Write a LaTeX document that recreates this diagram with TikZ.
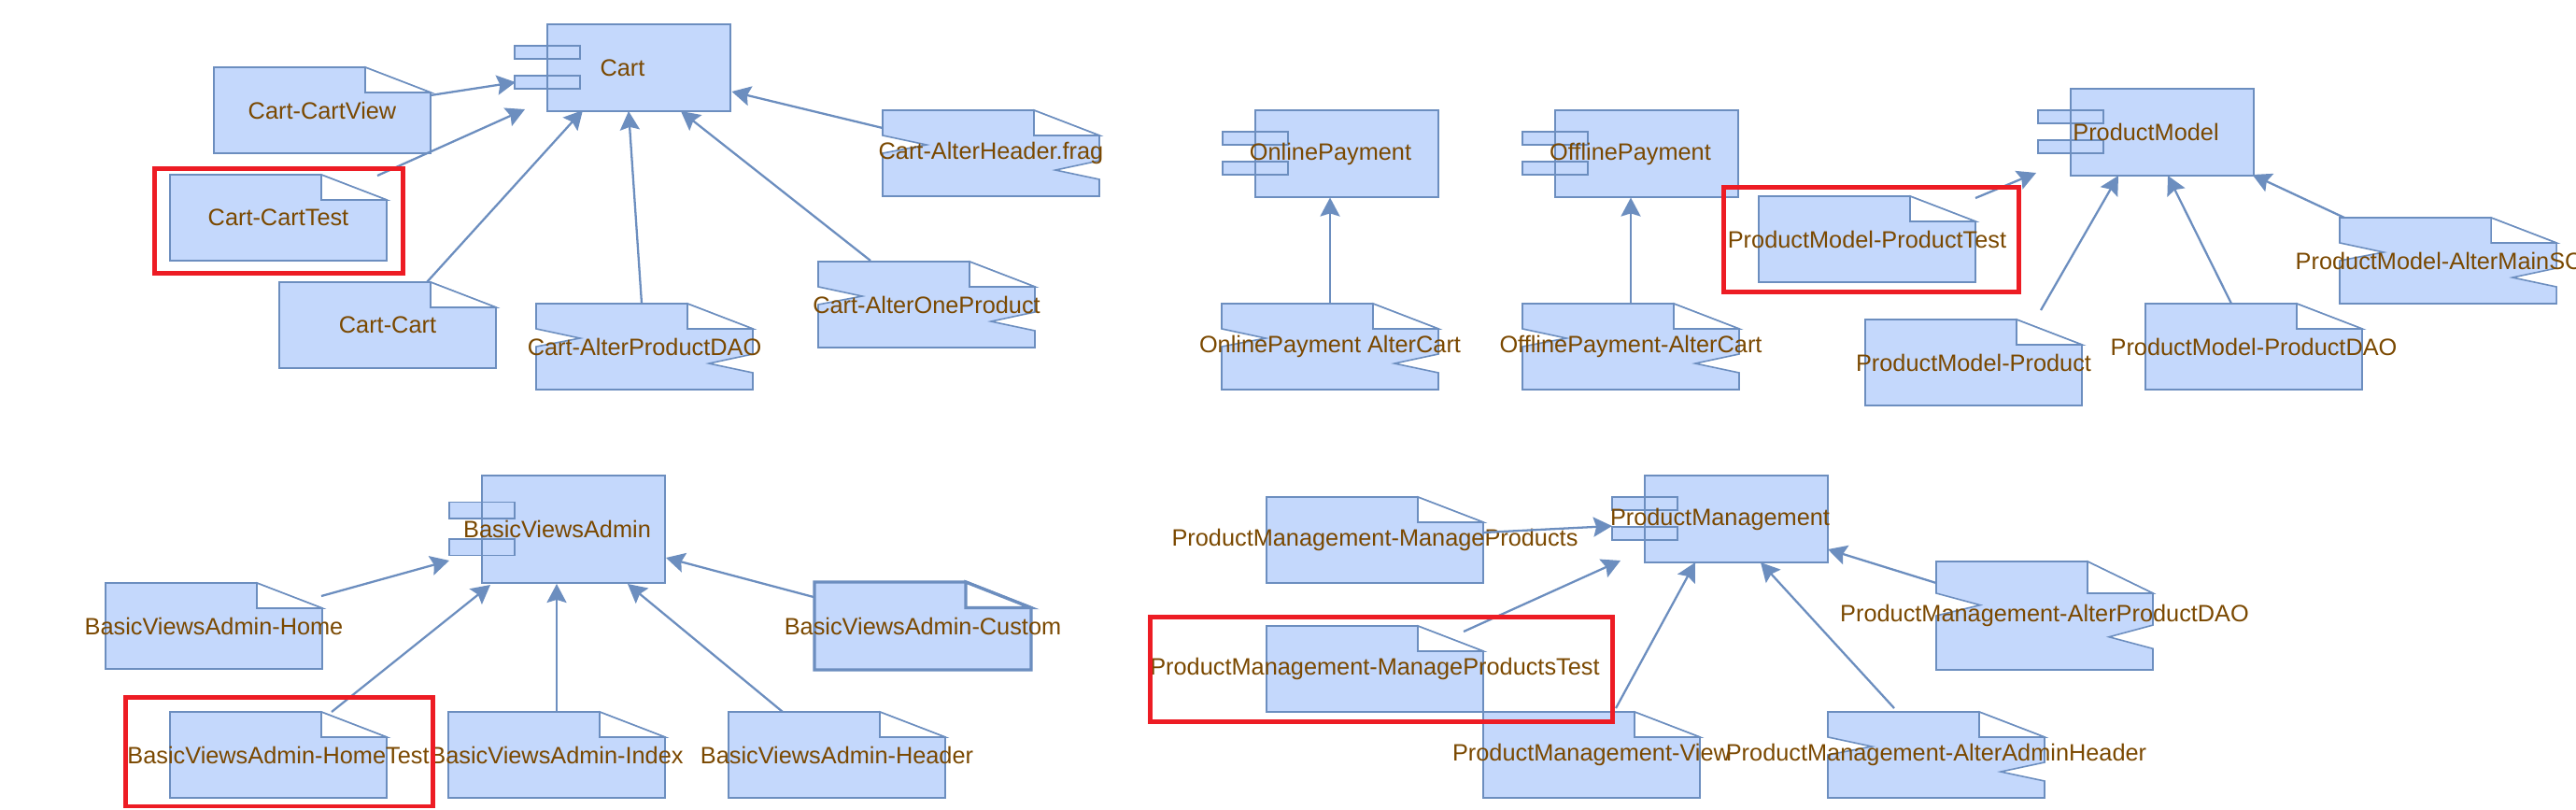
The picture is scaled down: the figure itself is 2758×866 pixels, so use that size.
\documentclass[tikz,border=0pt]{standalone}
\usepackage{fontspec}
\setmainfont{Liberation Sans}
\usetikzlibrary{calc,arrows.meta,backgrounds}
\definecolor{boxfill}{RGB}{196,216,252}
\definecolor{boxline}{RGB}{108,142,191}
\definecolor{labeltext}{RGB}{122,72,0}
\definecolor{markred}{RGB}{237,28,36}
\tikzset{
    lbl/.style={inner sep=0pt, text=labeltext, font=\fontsize{7.2}{8}\selectfont},
    shapeline/.style={draw=boxline, fill=boxfill, line width=0.45pt},
    foldline/.style={draw=boxline, fill=white, line width=0.45pt},
    dep/.style={draw=boxline, line width=0.65pt, -{Stealth[length=5.7pt,width=6pt,inset=0.9pt]}},
    markbox/.style={draw=markred, line width=1.4pt}
}

\begin{document}
\begin{tikzpicture}[x=0.01cm, y=-0.01cm]
            \useasboundingbox (0,0) rectangle (2758,866);

            \node[lbl] (cart) at (666.5,72.5) {Cart};
            \node[lbl] (onpay) at (1424.5,164.5) {OnlinePayment};
            \node[lbl] (offpay) at (1745.5,164.5) {OfflinePayment};
            \node[lbl] (pmodel) at (2297.5,141.5) {ProductModel};
            \node[lbl] (bva) at (596.5,566.5) {BasicViewsAdmin};
            \node[lbl] (pmgmt) at (1841.5,555.5) {ProductManagement};

            \node[lbl] (cview) at (345,118) {Cart-CartView};
            \node[lbl] (ctest) at (298,233) {Cart-CartTest};
            \node[lbl] (ccart) at (415,348) {Cart-Cart};
            \node[lbl] (cdao) at (690,371) {Cart-AlterProductDAO};
            \node[lbl] (cone) at (992,326) {Cart-AlterOneProduct};
            \node[lbl] (cheader) at (1061,164) {Cart-AlterHeader.frag};

            \node[lbl] (onalter) at (1424,371) {OnlinePayment AlterCart};
            \node[lbl] (offalter) at (1746,371) {OfflinePayment-AlterCart};
            \node[lbl] (pmtest) at (1999,256) {ProductModel-ProductTest};
            \node[lbl] (pmprod) at (2113,388) {ProductModel-Product};
            \node[lbl] (pmdao) at (2413,371) {ProductModel-ProductDAO};
            \node[lbl] (pmsc) at (2621,279) {};
            \node[lbl, anchor=west] (pmsctext) at (2457,279) {ProductModel-AlterMainSC};

            \node[lbl] (bhome) at (229,670) {BasicViewsAdmin-Home};
            \node[lbl] (bhtest) at (298,808) {BasicViewsAdmin-HomeTest};
            \node[lbl] (bindex) at (596,808) {BasicViewsAdmin-Index};
            \node[lbl] (bheader) at (896,808) {BasicViewsAdmin-Header};
            \node[lbl] (bcustom) at (988,670) {BasicViewsAdmin-Custom};

            \node[lbl] (mprod) at (1472,578) {ProductManagement-ManageProducts};
            \node[lbl] (mtest) at (1472,716) {ProductManagement-ManageProductsTest};
            \node[lbl] (mview) at (1704,808) {ProductManagement-View};
            \node[lbl] (mhead) at (2073,808) {ProductManagement-AlterAdminHeader};
            \node[lbl] (mdao) at (2189,659) {ProductManagement-AlterProductDAO};

            \begin{scope}[on background layer]
                \foreach \n/\h in {cart/93, onpay/93, offpay/93, pmodel/93, pmgmt/93, bva/115} {
                    \draw[shapeline] ($(\n)+(-80.5,-\h/2)$) rectangle ($(\n)+(115.5,\h/2)$);
                    \draw[shapeline] ($(\n)+(-115.5,-0.253*\h)$) rectangle ($(\n)+(-45.5,-0.102*\h)$);
                    \draw[shapeline] ($(\n)+(-115.5,0.091*\h)$) rectangle ($(\n)+(-45.5,0.242*\h)$);
                    \draw[draw=boxline, line width=0.45pt] ($(\n)+(-80.5,-\h/2)$) rectangle ($(\n)+(115.5,\h/2)$);
                }
                \foreach \n/\h/\w in {cview/92/0.45pt, ctest/92/0.45pt, ccart/92/0.45pt, pmtest/92/0.45pt, pmprod/92/0.45pt, pmdao/92/0.45pt,
                        bhome/92/0.45pt, bhtest/92/0.45pt, bindex/92/0.45pt, bheader/92/0.45pt, bcustom/94/0.95pt,
                        mprod/92/0.45pt, mtest/92/0.45pt, mview/92/0.45pt} {
                    \draw[shapeline, line width=\w] ($(\n)+(-116,-\h/2)$) -- ($(\n)+(46,-\h/2)$) -- ($(\n)+(116,-0.207*\h)$)
                        -- ($(\n)+(116,\h/2)$) -- ($(\n)+(-116,\h/2)$) -- cycle;
                    \draw[foldline, line width=\w] ($(\n)+(46,-\h/2)$) -- ($(\n)+(46,-0.207*\h)$) -- ($(\n)+(116,-0.207*\h)$) -- cycle;
                }
                \foreach \n/\h in {cdao/92, cone/92, cheader/92, onalter/92, offalter/92, pmsc/92, mhead/92, mdao/116} {
                    \draw[shapeline] ($(\n)+(-116,-\h/2)$) -- ($(\n)+(46,-\h/2)$) -- ($(\n)+(116,-0.207*\h)$)
                        -- ($(\n)+(116,0.087*\h)$) -- ($(\n)+(69,0.196*\h)$) -- ($(\n)+(116,0.304*\h)$)
                        -- ($(\n)+(116,\h/2)$) -- ($(\n)+(-116,\h/2)$) -- ($(\n)+(-116,0)$)
                        -- ($(\n)+(-69,-0.098*\h)$) -- ($(\n)+(-116,-0.207*\h)$) -- cycle;
                    \draw[foldline] ($(\n)+(46,-\h/2)$) -- ($(\n)+(46,-0.207*\h)$) -- ($(\n)+(116,-0.207*\h)$) -- cycle;
                }
            \end{scope}

            \draw[dep] ($(cview)+(116,-16)$) -- ($(cart)+(-114.5,15.5)$);
            \draw[dep] ($(ctest)+(106,-45)$) -- ($(cart)+(-104.5,44.5)$);
            \draw[dep] ($(ccart)+(42,-46)$) -- ($(cart)+(-42.5,45.5)$);
            \draw[dep] ($(cdao)+(-3,-46)$) -- ($(cart)+(6.5,46.5)$);
            \draw[dep] ($(cone)+(-60,-47)$) -- ($(cart)+(62.5,46.5)$);
            \draw[dep] ($(cheader)+(-116,-27)$) -- ($(cart)+(117,25.5)$);

            \draw[dep] ($(onalter)+(0,-46)$) -- ($(onpay)+(-0.5,47)$);
            \draw[dep] ($(offalter)+(0,-46)$) -- ($(offpay)+(0.5,47)$);
            \draw[dep] ($(pmtest)+(116,-44)$) -- ($(pmodel)+(-117.5,43.5)$);
            \draw[dep] ($(pmprod)+(72,-56)$) -- ($(pmodel)+(-29.5,46.5)$);
            \draw[dep] ($(pmdao)+(-24,-46)$) -- ($(pmodel)+(23.5,46.5)$);
            \draw[dep] ($(pmsc)+(-111,-46)$) -- ($(pmodel)+(114,45.5)$);

            \draw[dep] ($(bhome)+(115,-32)$) -- ($(bva)+(-115.5,33.5)$);
            \draw[dep] ($(bhtest)+(57,-46)$) -- ($(bva)+(-71.5,59.5)$);
            \draw[dep] ($(bindex)+(0,-46)$) -- ($(bva)+(-0.5,58.5)$);
            \draw[dep] ($(bheader)+(-58,-46)$) -- ($(bva)+(75.5,58.5)$);
            \draw[dep] ($(bcustom)+(-117,-31)$) -- ($(bva)+(116.5,30.5)$);

            \draw[dep] ($(mprod)+(116,-8)$) -- ($(pmgmt)+(-115.5,7.5)$);
            \draw[dep] ($(mtest)+(95,-40)$) -- ($(pmgmt)+(-106.5,44.5)$);
            \draw[dep] ($(mview)+(26,-50)$) -- ($(pmgmt)+(-26.5,46.5)$);
            \draw[dep] ($(mhead)+(-45,-50)$) -- ($(pmgmt)+(43.5,46.5)$);
            \draw[dep] ($(mdao)+(-116,-35)$) -- ($(pmgmt)+(115.5,32.5)$);

            \draw[markbox] ($(ctest)+(-132.5,-52.5)$) rectangle ($(ctest)+(133.5,59.5)$);
            \draw[markbox] ($(pmtest)+(-153.5,-55.5)$) rectangle ($(pmtest)+(162.5,56.5)$);
            \draw[markbox] ($(bhtest)+(-163.5,-61.5)$) rectangle ($(bhtest)+(165.5,55)$);
            \draw[markbox] ($(mtest)+(-240.5,-55.5)$) rectangle ($(mtest)+(254.5,56.5)$);
        \end{tikzpicture}
\end{document}
